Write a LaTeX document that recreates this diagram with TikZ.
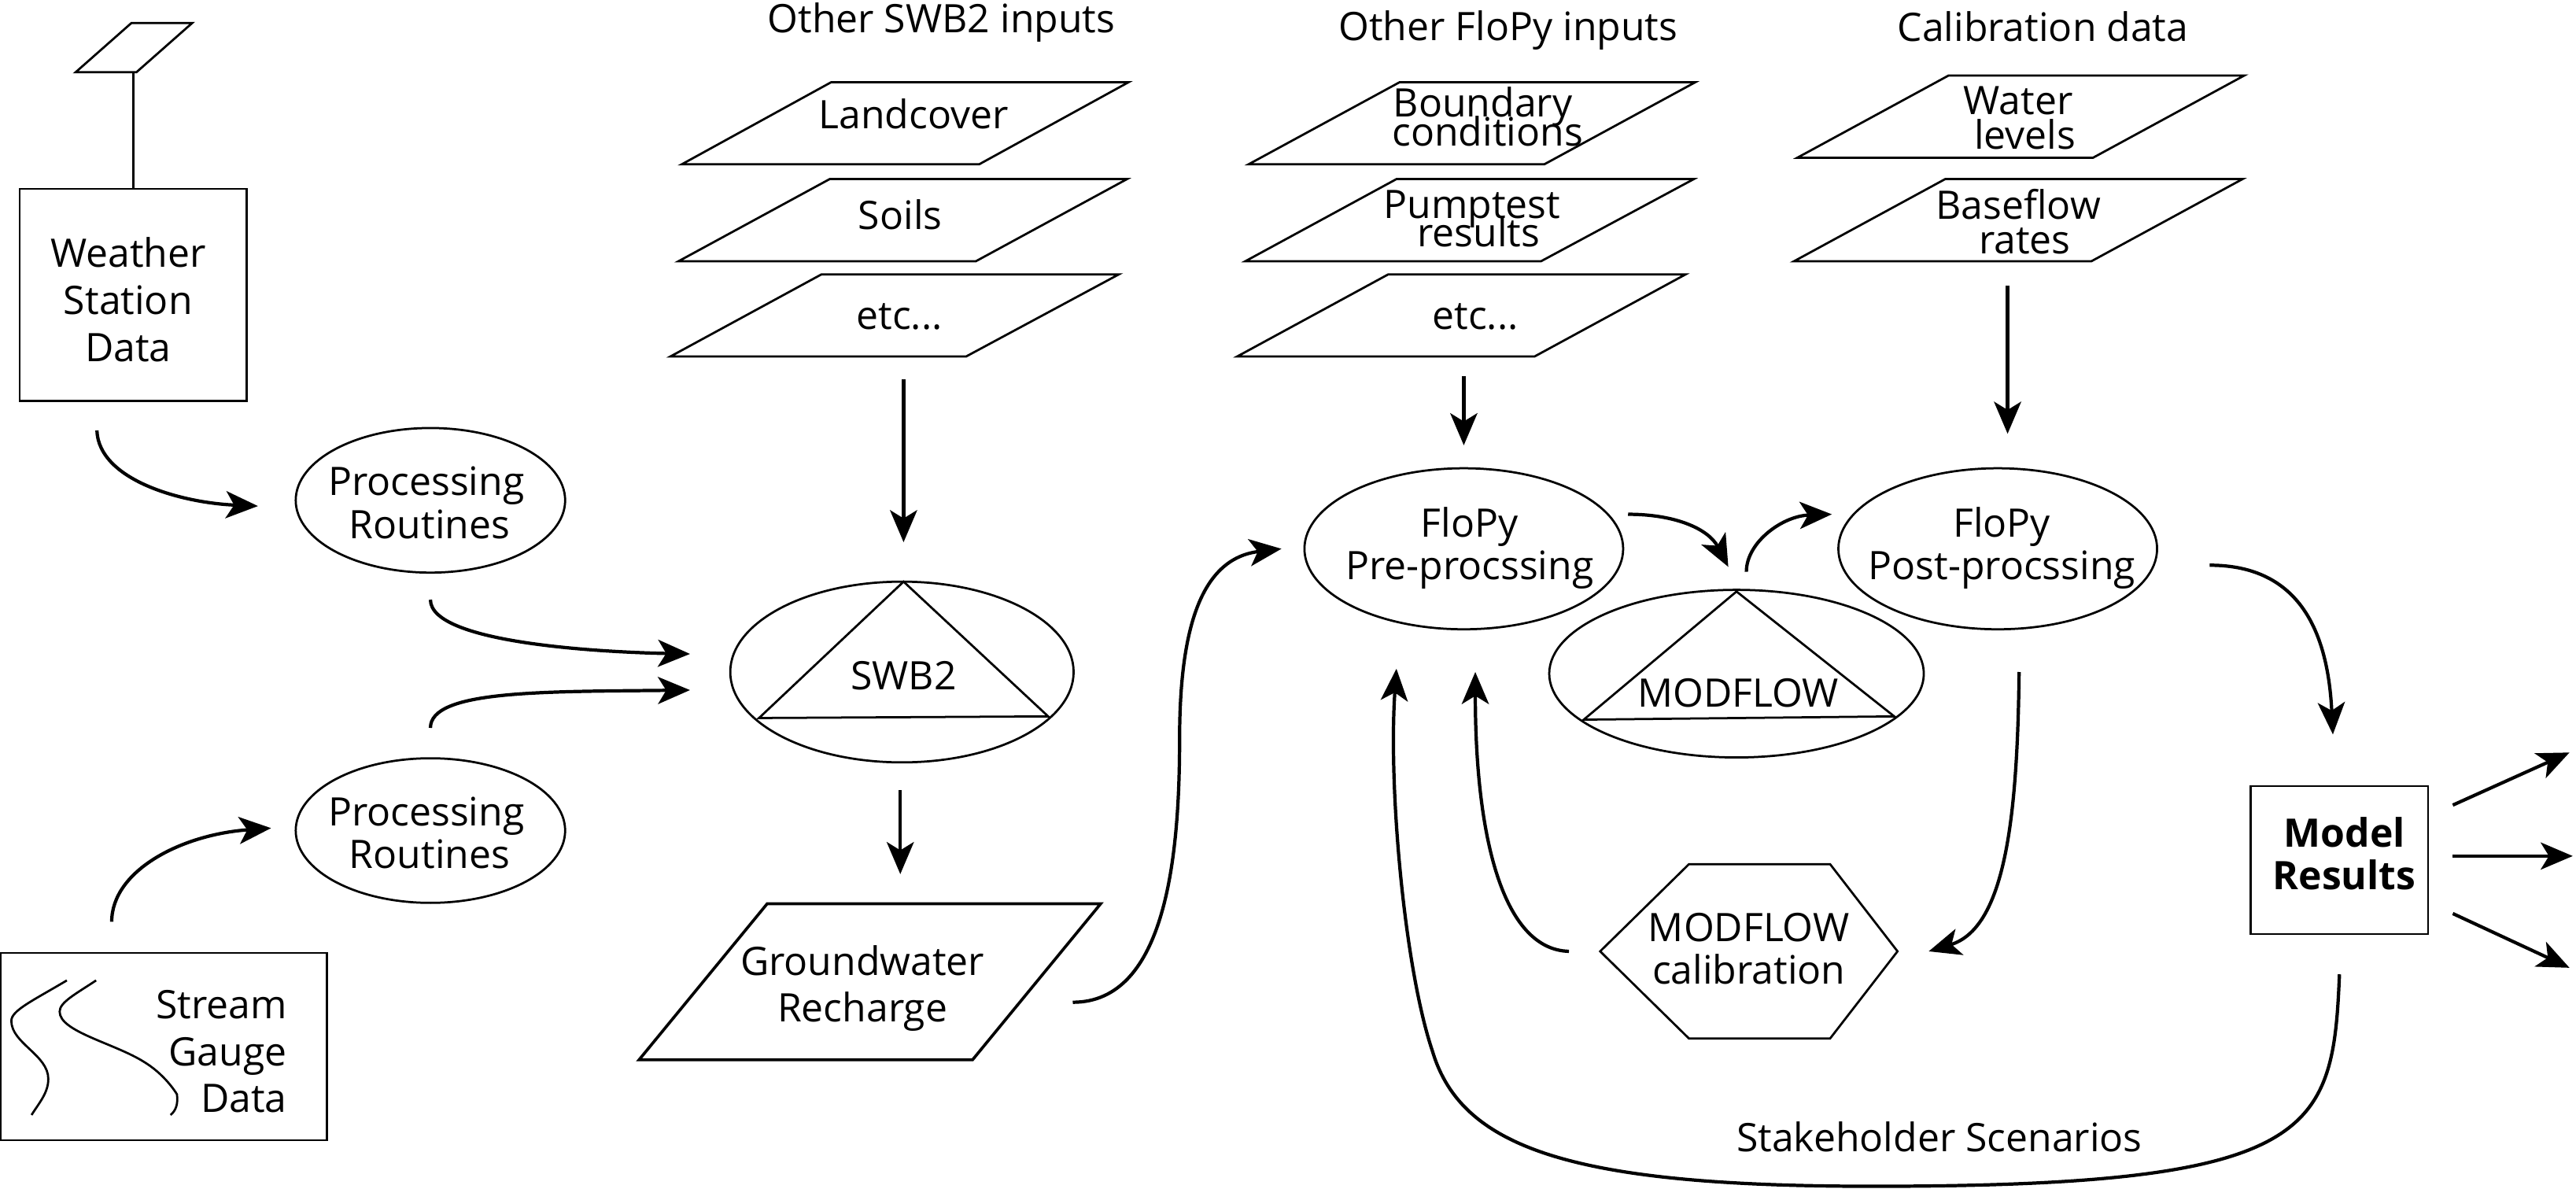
\documentclass[tikz,border=0pt]{standalone}
\usepackage{fontspec}
\setmainfont{Open Sans}
\usetikzlibrary{arrows.meta,shapes.geometric}
\newcommand{\fsz}[1]{\fontsize{13.6}{#1}\selectfont\lineskiplimit=-20pt\relax}
\tikzset{
  outl/.style={draw=black,line width=0.75pt,line join=miter},
  oval/.style={outl,ellipse,inner sep=0pt,minimum width=#1},
  lbl/.style={align=center,inner sep=0pt,font=\fsz{14.8}},
  wide/.style={align=center,inner sep=0pt,font=\fsz{16.3}},
  flow/.style={draw=black,line width=1.15pt,-{Stealth[length=0.39cm,width=0.33cm,inset=0.1cm]}},
}
\begin{document}
\begin{tikzpicture}[x=0.02cm,y=-0.02cm]
\useasboundingbox (0,0) rectangle (1568,723.6);
% coordinates for free connector ends
\coordinate (wxOut) at (59,262);
\coordinate (p1In) at (157,308);
\coordinate (p1Out) at (262,365);
\coordinate (swbInA) at (420,398);
\coordinate (p2Out) at (262,443);
\coordinate (swbInB) at (420,420);
\coordinate (gaugeOut) at (68,561);
\coordinate (p2In) at (165,504);
\coordinate (swbTopIn) at (550,330);
\coordinate (swbInputs) at (550,231);
\coordinate (swbOut) at (548,481);
\coordinate (rechIn) at (548,532);
\coordinate (rechOut) at (653,610);
\coordinate (preIn) at (780,334);
\coordinate (flopyInputs) at (891,229);
\coordinate (preTopIn) at (891,271);
\coordinate (calInputs) at (1222,174);
\coordinate (postTopIn) at (1222,264);
\coordinate (preOut) at (991,313);
\coordinate (mfIn) at (1052,345);
\coordinate (mfOut) at (1063,348);
\coordinate (postIn) at (1115,313);
\coordinate (postOut) at (1345,344);
\coordinate (resIn) at (1420,447);
\coordinate (postDown) at (1229,409);
\coordinate (calIn) at (1174,579);
\coordinate (calOut) at (955,579);
\coordinate (preBotA) at (898,409);
\coordinate (resOutT) at (1493,490);
\coordinate (endT) at (1564,458);
\coordinate (resOutM) at (1493,521);
\coordinate (endM) at (1566,521);
\coordinate (resOutB) at (1493,556);
\coordinate (endB) at (1564,589);
\coordinate (resOutS) at (1424,593);
\coordinate (preBotB) at (850,407);

% weather station
\draw[outl] (46,44) -- (80,14) -- (117,14) -- (83,44) -- cycle;
\draw[outl] (81,44) -- (81,115);
\draw[outl] (12,115) rectangle (150,244);
\node[wide] (wx) at (78,182.5) {Weather\\Station\\Data};

% processing
\node[oval=164*0.02cm,minimum height=88*0.02cm] (p1) at (262,304.5) {};
\node[lbl] (p1L) at (259.5,306) {Processing\\\hspace*{0.08cm}Routines};
\node[oval=164*0.02cm,minimum height=88*0.02cm] (p2) at (262,505.5) {};
\node[lbl] (p2L) at (259.5,507) {Processing\\\hspace*{0.08cm}Routines};

% stream gauge
\draw[outl] (0.5,580) rectangle (199,694);
\draw[outl] (40.7,596.7) .. controls (20,609) and (6.9,615) .. (6.9,621.3) .. controls (6.9,635) and (29.4,642) .. (29.4,656.7) .. controls (29.4,665) and (24,671) .. (19.2,678.6);
\draw[outl] (58.5,596.7) .. controls (46,605) and (36.3,610) .. (36.3,615.7) .. controls (36.3,628) and (70,635) .. (88,646.5) .. controls (97,652) and (104,660) .. (107.7,666) .. controls (108.5,672) and (107,676) .. (103.8,678.6);
\node[wide,align=right,anchor=east] (gauge) at (175,640) {Stream\\Gauge\\Data};

% SWB2 inputs
\node[lbl] (swbT) at (573,13.5) {Other SWB2 inputs};
\draw[outl] (415,100) -- (506,50) -- (687,50) -- (596,100) -- cycle;
\node[lbl] (land) at (556,69.5) {Landcover};
\draw[outl] (413,159) -- (505,109) -- (686,109) -- (594,159) -- cycle;
\node[lbl] (soils) at (548,130.5) {Soils};
\draw[outl] (408,217) -- (500,167) -- (681,167) -- (588,217) -- cycle;
\node[lbl] (etcA) at (547.5,192.5) {etc...};

% SWB2
\node[oval=209*0.02cm,minimum height=110*0.02cm] (swb) at (549,409) {};
\draw[outl] (550,354) -- (462,437) -- (638,436) -- cycle;
\node[lbl] (swbL) at (550,411) {SWB2};

% recharge
\draw[outl,line width=1pt] (389,645) -- (467,550) -- (670,550) -- (592,645) -- cycle;
\node[wide] (rech) at (525,601.5) {Groundwater\\Recharge};

% FloPy inputs
\node[lbl] (flopyT) at (918,18.5) {Other FloPy inputs};
\draw[outl] (760,100) -- (852,50) -- (1032,50) -- (940,100) -- cycle;
\node[lbl,font=\fsz{10.2}] (bc) at (905.5,71) {\hspace*{-0.12cm}Boundary\\conditions};
\draw[outl] (758,159) -- (850,109) -- (1031,109) -- (938,159) -- cycle;
\node[lbl,font=\fsz{9.8}] (pump) at (896,133) {Pumptest\\\hspace*{0.16cm}results};
\draw[outl] (753,217) -- (845,167) -- (1026,167) -- (934,217) -- cycle;
\node[lbl] (etcB) at (898,192.5) {etc...};

% calibration data
\node[lbl] (calT) at (1243.5,16) {Calibration data};
\draw[outl] (1094,96) -- (1186,46) -- (1366,46) -- (1274,96) -- cycle;
\node[lbl,font=\fsz{12}] (water) at (1228.5,72) {Water\\\hspace*{0.16cm}levels};
\draw[outl] (1092,159) -- (1184,109) -- (1365,109) -- (1273,159) -- cycle;
\node[lbl,font=\fsz{12}] (base) at (1228.5,135) {Baseflow\\\hspace*{0.16cm}rates};

% FloPy ellipses
\node[oval=194*0.02cm,minimum height=98*0.02cm] (pre) at (891,334) {};
\node[lbl] (preL) at (894.5,333.5) {FloPy\\Pre-procssing};
\node[oval=194*0.02cm,minimum height=98*0.02cm] (post) at (1216,334) {};
\node[lbl] (postL) at (1218.5,333.5) {FloPy\\Post-procssing};

% MODFLOW
\node[oval=228*0.02cm,minimum height=102*0.02cm] (mf) at (1057,410) {};
\draw[outl] (1057,360) -- (964,438) -- (1153,436) -- cycle;
\node[lbl] (mfL) at (1058,422) {MODFLOW};

% calibration hexagon
\draw[outl] (974,579) -- (1028,526) -- (1114,526) -- (1155,579) -- (1114,632) -- (1028,632) -- cycle;
\node[lbl] (hex) at (1064.5,577.5) {MODFLOW\\calibration};

% results
\node[outl,minimum width=108*0.02cm,minimum height=90*0.02cm] (res) at (1424,523.5) {};
\node[lbl,font=\fsz{14.8}\bfseries] (resL) at (1427,519.5) {Model\\Results};

\node[lbl] (stake) at (1180.5,692) {Stakeholder Scenarios};

% connectors
\draw[flow] (wxOut) .. controls (60,292) and (110,306) .. (p1In);
\draw[flow] (p1Out) .. controls (262,392) and (370,397) .. (swbInA);
\draw[flow] (p2Out) .. controls (262,420) and (330,421) .. (swbInB);
\draw[flow] (gaugeOut) .. controls (68,530) and (110,508) .. (p2In);
\draw[flow] (swbInputs) -- (swbTopIn);
\draw[flow] (swbOut) -- (rechIn);
\draw[flow] (rechOut) .. controls (710,610) and (718,520) .. (718,450) .. controls (718,385) and (730,340) .. (preIn);
\draw[flow] (flopyInputs) -- (preTopIn);
\draw[flow] (calInputs) -- (postTopIn);
\draw[flow] (preOut) .. controls (1020,313) and (1040,322) .. (mfIn);
\draw[flow] (mfOut) .. controls (1063,330) and (1085,314) .. (postIn);
\draw[flow] (postOut) .. controls (1400,344) and (1417,385) .. (resIn);
\draw[flow] (postDown) .. controls (1228,500) and (1220,565) .. (calIn);
\draw[flow] (calOut) .. controls (915,578) and (898,510) .. (preBotA);
\draw[flow] (resOutT) -- (endT);
\draw[flow] (resOutM) -- (endM);
\draw[flow] (resOutB) -- (endB);
\draw[flow] (resOutS) .. controls (1420,690) and (1410,722) .. (1140,722) .. controls (960,722) and (890,700) .. (872,640) .. controls (855,590) and (845,480) .. (preBotB);
\end{tikzpicture}
\end{document}
